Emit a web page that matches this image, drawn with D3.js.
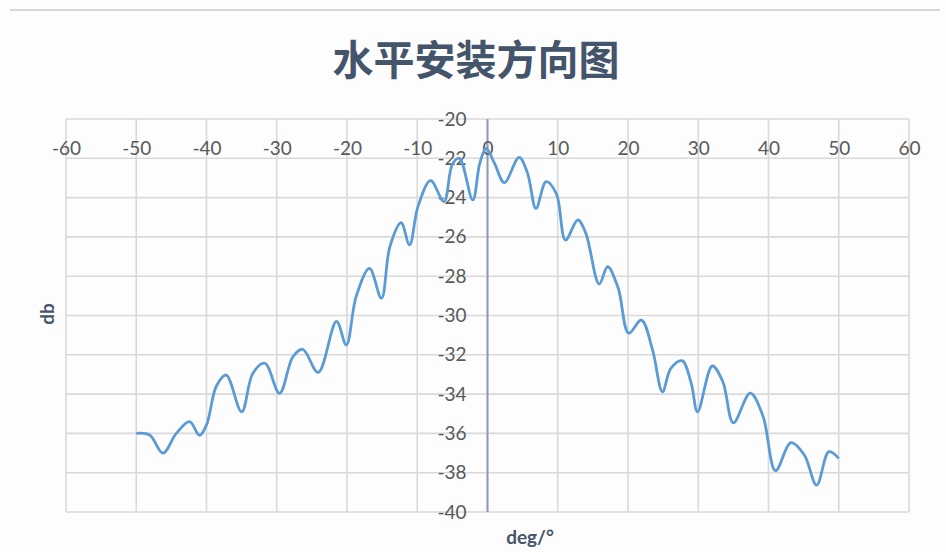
<!DOCTYPE html>
<html>
<head>
<meta charset="utf-8">
<script src="https://cdn.jsdelivr.net/npm/d3@7"></script>
<style>
  html, body { margin: 0; padding: 0; background: #fdfdfd; }
  svg { display: block; }
</style>
</head>
<body>
<svg id="chart" width="946" height="552"></svg>
<script>
const chartTitle = "水平安装方向图";
const xAxisTitle = "deg/°";
const yAxisTitle = "db";
const xTicks = [-60, -50, -40, -30, -20, -10, 0, 10, 20, 30, 40, 50, 60];
const yTicks = [-20, -22, -24, -26, -28, -30, -32, -34, -36, -38, -40];
const angles = [-50, -48.1, -46.2, -44.3, -42.4, -41.0, -40.0, -38.6, -37.2, -35.0,
  -33.4, -31.7, -29.6, -27.7, -26.3, -24.1, -21.5, -20.1, -18.7, -16.8,
  -15.1, -13.9, -12.3, -11.1, -9.9, -8.1, -6.2, -5.0, -4.0, -2.1,
  -1.1, -0.2, 1.0, 2.4, 4.5, 5.7, 6.9, 8.35, 9.8, 11.1,
  12.85, 14.0, 15.9, 17.1, 18.6, 20.1, 21.9, 23.5, 24.9, 26.1,
  27.7, 29.0, 29.9, 32.0, 33.5, 35.0, 37.4, 39.2, 41.0, 43.2,
  45.1, 46.85, 48.6, 50];
const gainDb = [-36.0, -36.08, -37.0, -36.0, -35.4, -36.1, -35.57, -33.6, -33.03, -34.9,
  -32.94, -32.43, -33.96, -32.1, -31.72, -32.9, -30.3, -31.5, -29.04, -27.6,
  -29.12, -26.5, -25.28, -26.41, -24.46, -23.14, -24.2, -22.3, -22.0, -24.12,
  -22.26, -21.5, -22.26, -23.24, -21.95, -22.76, -24.55, -23.19, -23.8, -26.16,
  -25.14, -25.82, -28.4, -27.52, -28.6, -30.9, -30.23, -31.76, -33.88, -32.69,
  -32.3, -33.45, -34.9, -32.57, -33.37, -35.46, -33.95, -35.1, -37.9, -36.47,
  -37.1, -38.63, -36.93, -37.27];

const svg = d3.select("#chart");
const x = d3.scaleLinear().domain([-60, 60]).range([66, 909]);
const y = d3.scaleLinear().domain([-40, -20]).range([512, 119]);
const labelFont = "Lato, 'Open Sans', sans-serif";
const textColor = "#595959";
const titleColor = "#44546a";
const fmt = d => String(d);

// top border line
svg.append("line").attr("x1", 10).attr("x2", 940).attr("y1", 10).attr("y2", 10)
  .attr("stroke", "#d6d6d6").attr("stroke-width", 2);

// title
svg.append("text").attr("x", 476).attr("y", 75).attr("text-anchor", "middle")
  .attr("font-family", "'Noto Sans CJK SC', sans-serif").attr("font-weight", "bold")
  .attr("font-size", 41).attr("fill", titleColor).text(chartTitle);

// gridlines
const grid = svg.append("g");
grid.selectAll("line.v").data(xTicks).join("line").attr("class", "v")
  .attr("x1", d => x(d)).attr("x2", d => x(d)).attr("y1", y(-20)).attr("y2", y(-40))
  .attr("stroke", "#d9d9d9").attr("stroke-width", 1.6);
grid.selectAll("line.h").data(yTicks).join("line").attr("class", "h")
  .attr("x1", x(-60)).attr("x2", x(60)).attr("y1", d => y(d)).attr("y2", d => y(d))
  .attr("stroke", "#d9d9d9").attr("stroke-width", 1.6);

// vertical axis at x = 0
svg.append("line").attr("x1", x(0)).attr("x2", x(0)).attr("y1", y(-20)).attr("y2", y(-40))
  .attr("stroke", "#8e9bb0").attr("stroke-width", 2);

// x tick labels (axis crossing at -22)
const xAx = d3.axisTop(x).tickValues(xTicks).tickFormat(fmt).tickSize(0).tickPadding(3);
const gx = svg.append("g").attr("transform", `translate(0,${y(-22)})`).call(xAx);
gx.select(".domain").remove();
gx.selectAll("text").attr("font-family", labelFont).attr("font-size", 19).attr("fill", textColor);

// y tick labels
const yAx = d3.axisLeft(y).tickValues(yTicks).tickFormat(fmt).tickSize(0).tickPadding(21);
const gy = svg.append("g").attr("transform", `translate(${x(0)},0)`).call(yAx);
gy.select(".domain").remove();
gy.selectAll("text").attr("font-family", labelFont).attr("font-size", 19).attr("fill", textColor);

// line
const pts = angles.map((a, i) => [a, gainDb[i]]);
const line = d3.line().x(d => x(d[0])).y(d => y(d[1])).curve(d3.curveCatmullRom.alpha(0.5));
svg.append("path").datum(pts).attr("d", line).attr("fill", "none")
  .attr("stroke", "#5b9bd5").attr("stroke-width", 2.8).attr("stroke-linejoin", "round");

// axis titles
svg.append("text").attr("transform", "translate(54,314) rotate(-90)").attr("text-anchor", "middle")
  .attr("font-family", labelFont).attr("font-weight", "bold").attr("font-size", 19)
  .attr("fill", titleColor).text(yAxisTitle);
svg.append("text").attr("x", 530).attr("y", 544).attr("text-anchor", "middle")
  .attr("font-family", labelFont).attr("font-weight", "bold").attr("font-size", 19)
  .attr("fill", titleColor).text(xAxisTitle);
</script>
</body>
</html>
